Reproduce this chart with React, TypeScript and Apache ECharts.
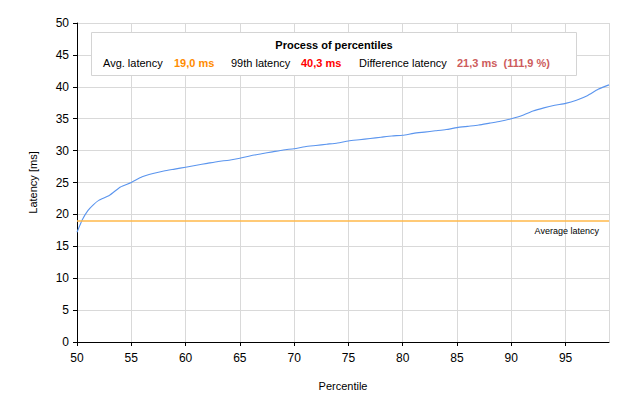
import React, { useEffect, useRef } from "react";
import * as echarts from "echarts";

const percentiles = [50, 50.5, 51, 51.5, 52, 53, 54, 55, 56, 57, 58, 59, 60, 61, 62, 63, 64, 65, 66, 67, 68, 69, 70, 71, 72, 73, 74, 75, 76, 77, 78, 79, 80, 81, 82, 83, 84, 85, 86, 87, 88, 89, 90, 91, 92, 93, 94, 95, 96, 97, 98, 99];
const latencies = [17.2, 19.2, 20.6, 21.5, 22.2, 23.0, 24.3, 25.0, 25.9, 26.4, 26.8, 27.1, 27.4, 27.7, 28.0, 28.3, 28.5, 28.8, 29.2, 29.5, 29.8, 30.1, 30.3, 30.6, 30.8, 31.0, 31.2, 31.5, 31.7, 31.9, 32.1, 32.3, 32.4, 32.7, 32.9, 33.1, 33.3, 33.6, 33.8, 34.0, 34.3, 34.6, 35.0, 35.5, 36.2, 36.7, 37.1, 37.4, 37.9, 38.6, 39.6, 40.3];
const averageLatency = 19.0;
const title = "Process of percentiles";
const legendLabels = ["Avg. latency", "19,0 ms", "99th latency", "40,3 ms", "Difference latency", "21,3 ms  (111,9 %)"];

export default function App() {
  const ref = useRef<HTMLDivElement>(null);
  useEffect(() => {
    const chart = echarts.init(ref.current!, null, { renderer: "svg" });
    const font = "Liberation Sans";
    const lineY = 63;
    chart.setOption({
      animation: false,
      backgroundColor: "#ffffff",
      textStyle: { fontFamily: font },
      grid: { left: 77, top: 23, right: 19, bottom: 62 },
      xAxis: {
        type: "value",
        min: 50,
        max: 99,
        interval: 5,
        name: "Percentile",
        nameLocation: "middle",
        nameGap: 38,
        nameTextStyle: { color: "#000", fontSize: 11, fontFamily: font },
        axisLine: { show: true, lineStyle: { color: "#000", width: 1 } },
        axisTick: { show: true, length: 4, lineStyle: { color: "#000" } },
        axisLabel: { color: "#000", fontSize: 12, margin: 10, showMaxLabel: false, fontFamily: font },
        splitLine: { show: true, lineStyle: { color: "#d9d9d9", width: 1 } },
      },
      yAxis: {
        type: "value",
        min: 0,
        max: 50,
        interval: 5,
        name: "Latency [ms]",
        nameLocation: "middle",
        nameGap: 39,
        nameTextStyle: { color: "#000", fontSize: 11, fontFamily: font },
        axisLine: { show: true, lineStyle: { color: "#000", width: 1 } },
        axisTick: { show: true, length: 4, lineStyle: { color: "#000" } },
        axisLabel: { color: "#000", fontSize: 12, margin: 8, fontFamily: font },
        splitLine: { show: true, lineStyle: { color: "#d9d9d9", width: 1 } },
      },
      series: [
        {
          type: "line",
          data: percentiles.map((p, i) => [p, latencies[i]]),
          showSymbol: false,
          smooth: 0.2,
          lineStyle: { color: "#5b95ee", width: 1.1 },
          z: 3,
          markLine: {
            silent: true,
            symbol: "none",
            data: [{ yAxis: averageLatency }],
            lineStyle: { color: "#ffb94a", width: 1.5, type: "solid" },
            label: {
              show: true,
              position: "insideEndBottom",
              formatter: "Average latency",
              color: "#000",
              fontSize: 9,
              fontFamily: font,
              distance: [10, 6],
            },
          },
        },
      ],
      graphic: [
        {
          type: "rect",
          shape: { x: 91.5, y: 32.5, width: 485, height: 43 },
          style: { fill: "#ffffff", stroke: "#d4d4d4", lineWidth: 1 },
          z: 10,
        },
        {
          type: "text",
          x: 334,
          y: 45,
          style: { text: title, fill: "#000", font: `bold 11px ${font}`, textAlign: "center", textVerticalAlign: "middle" },
          z: 11,
        },
        {
          type: "text", x: 103, y: lineY,
          style: { text: legendLabels[0], fill: "#000", font: `11px ${font}`, textVerticalAlign: "middle" }, z: 11,
        },
        {
          type: "text", x: 174, y: lineY,
          style: { text: legendLabels[1], fill: "#ff8c00", font: `bold 11px ${font}`, textVerticalAlign: "middle" }, z: 11,
        },
        {
          type: "text", x: 231, y: lineY,
          style: { text: legendLabels[2], fill: "#000", font: `11px ${font}`, textVerticalAlign: "middle" }, z: 11,
        },
        {
          type: "text", x: 301, y: lineY,
          style: { text: legendLabels[3], fill: "#ff0000", font: `bold 11px ${font}`, textVerticalAlign: "middle" }, z: 11,
        },
        {
          type: "text", x: 359, y: lineY,
          style: { text: legendLabels[4], fill: "#000", font: `11px ${font}`, textVerticalAlign: "middle" }, z: 11,
        },
        {
          type: "text", x: 457, y: lineY,
          style: { text: legendLabels[5], fill: "#cd5c5c", font: `bold 11px ${font}`, textVerticalAlign: "middle" }, z: 11,
        },
      ],
    });
    return () => chart.dispose();
  }, []);
  return (
    <div
      ref={ref}
      style={{ position: "fixed", left: 0, top: 0, width: 628, height: 404, background: "#fff" }}
    />
  );
}
